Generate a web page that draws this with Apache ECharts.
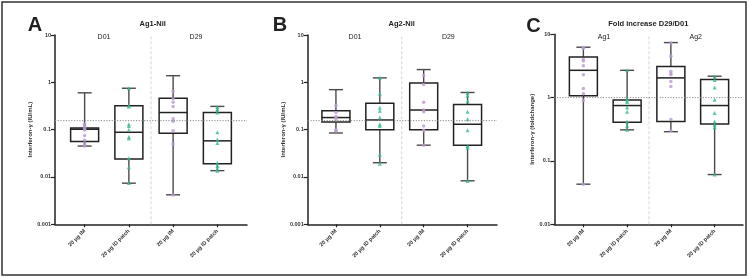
<!DOCTYPE html>
<html>
<head>
<meta charset="utf-8">
<script src="https://cdn.jsdelivr.net/npm/echarts@6/dist/echarts.min.js"></script>
<style>
html,body{margin:0;padding:0;background:#fff;}
#main{width:750px;height:278px;}
</style>
</head>
<body>
<div id="main"></div>
<script>
// categories
var groups = ['20 µg IM', '20 µg ID patch', '20 µg IM', '20 µg ID patch'];

// box stats per group: [min, q1, median, q3, max]
var aBox = [
    [0.045, 0.056, 0.102, 0.108, 0.6],
    [0.0074, 0.024, 0.088, 0.32, 0.75],
    [0.0042, 0.084, 0.23, 0.46, 1.38],
    [0.0136, 0.019, 0.058, 0.23, 0.31]
];
var bBox = [
    [0.085, 0.145, 0.18, 0.25, 0.7],
    [0.02, 0.1, 0.16, 0.36, 1.24],
    [0.047, 0.1, 0.26, 0.97, 1.86],
    [0.0083, 0.047, 0.13, 0.34, 0.61]
];
var cBox = [
    [0.043, 1.07, 2.7, 4.4, 6.25],
    [0.31, 0.41, 0.75, 0.92, 2.7],
    [0.29, 0.42, 2.05, 3.1, 7.4],
    [0.061, 0.385, 0.75, 1.93, 2.18]
];

// individual points per group
var aPts = [
    [0.13, 0.12, 0.11, 0.1, 0.1, 0.075, 0.06, 0.05, 0.045],
    [0.75, 0.32, 0.31, 0.13, 0.12, 0.1, 0.07, 0.065, 0.025, 0.016, 0.0075],
    [0.64, 0.45, 0.38, 0.31, 0.17, 0.15, 0.095, 0.05, 0.0042],
    [0.3, 0.27, 0.23, 0.088, 0.062, 0.052, 0.02, 0.017, 0.015, 0.0136]
];
var bPts = [
    [0.32, 0.23, 0.19, 0.18, 0.16, 0.1, 0.093],
    [1.25, 0.58, 0.29, 0.25, 0.18, 0.13, 0.12, 0.03, 0.019],
    [1.4, 0.9, 0.38, 0.26, 0.24, 0.12, 0.097, 0.095, 0.047],
    [0.6, 0.52, 0.4, 0.24, 0.165, 0.097, 0.045, 0.042, 0.0082]
];
var cPts = [
    [6.2, 6.0, 4.0, 3.8, 3.2, 2.3, 1.4, 1.15, 0.9, 0.043],
    [2.7, 0.95, 0.9, 0.85, 0.7, 0.6, 0.42, 0.36, 0.31],
    [7.3, 4.5, 2.6, 2.4, 2.3, 1.8, 1.5, 0.45, 0.3],
    [2.15, 1.9, 1.45, 0.93, 0.57, 0.42, 0.37, 0.34, 0.061]
];

// dotted reference level per panel
var aRef = 0.155;
var bRef = 0.155;
var cRef = 1;

var purple = '#b89bd0';
var green = '#38b98f';
var font = 'Liberation Sans, Arial, sans-serif';

var panels = [
    {box: aBox, pts: aPts, ref: aRef, min: 0.001, max: 10, name: 'Interferon-γ (IU/mL)',
     frame: {left: 55, top: 35, width: 192, height: 189.3},
     inner: {left: 62.5, top: 35, width: 177, height: 189.3}},
    {box: bBox, pts: bPts, ref: bRef, min: 0.001, max: 10, name: 'Interferon-γ (IU/mL)',
     frame: {left: 307.7, top: 35, width: 189.3, height: 189.3},
     inner: {left: 314, top: 35, width: 175.5, height: 189.3}},
    {box: cBox, pts: cPts, ref: cRef, min: 0.01, max: 10, name: 'Interferon-γ (foldchange)',
     frame: {left: 554.3, top: 34.3, width: 188.7, height: 190},
     inner: {left: 561.5, top: 34.3, width: 175, height: 190}}
];

function drawBox(params, api) {
    var x = api.value(0);
    var lo = api.coord([x, api.value(1)]);
    var q1 = api.coord([x, api.value(2)]);
    var md = api.coord([x, api.value(3)]);
    var q3 = api.coord([x, api.value(4)]);
    var hi = api.coord([x, api.value(5)]);
    var cx = lo[0], hw = 14, cw = 7;
    var ws = {stroke: '#4a4a4a', lineWidth: 1.4};
    var bs = {stroke: '#222', lineWidth: 1.5, fill: 'none'};
    return {
        type: 'group',
        children: [
            {type: 'line', shape: {x1: cx, y1: hi[1], x2: cx, y2: q3[1]}, style: ws},
            {type: 'line', shape: {x1: cx, y1: q1[1], x2: cx, y2: lo[1]}, style: ws},
            {type: 'line', shape: {x1: cx - cw, y1: hi[1], x2: cx + cw, y2: hi[1]}, style: ws},
            {type: 'line', shape: {x1: cx - cw, y1: lo[1], x2: cx + cw, y2: lo[1]}, style: ws},
            {type: 'rect', shape: {x: cx - hw, y: q3[1], width: 2 * hw, height: q1[1] - q3[1]}, style: bs},
            {type: 'line', shape: {x1: cx - hw, y1: md[1], x2: cx + hw, y2: md[1]}, style: bs}
        ]
    };
}

function tickLabel(v) {
    return String(parseFloat(v.toPrecision(3)));
}

var grid = [], xAxis = [], yAxis = [], series = [];

panels.forEach(function (p, k) {
    var gFrame = grid.length;
    grid.push(p.frame);
    var gInner = grid.length;
    grid.push(p.inner);

    // frame axes: visible axis lines, y ticks and labels
    var xFrame = xAxis.length;
    xAxis.push({
        type: 'value', gridIndex: gFrame, min: 0, max: 1,
        axisLine: {show: true, lineStyle: {color: '#222', width: 1.5}},
        axisTick: {show: false}, axisLabel: {show: false}, splitLine: {show: false}
    });
    var yFrame = yAxis.length;
    yAxis.push({
        type: 'log', logBase: 10, gridIndex: gFrame, min: p.min, max: p.max,
        name: p.name, nameLocation: 'middle', nameGap: 19, nameRotate: 90,
        nameTextStyle: {fontSize: 6, fontWeight: 'bold', color: '#333', fontFamily: font},
        axisLine: {show: true, lineStyle: {color: '#222', width: 1.5}},
        axisTick: {show: true, length: 4, lineStyle: {color: '#222', width: 1.2}},
        minorTick: {show: false},
        axisLabel: {fontSize: 5.5, fontWeight: 'bold', color: '#333', margin: 4, fontFamily: font, formatter: tickLabel},
        splitLine: {show: false}
    });

    // inner axes: categories and the group separator
    var xCat = xAxis.length;
    xAxis.push({
        type: 'category', gridIndex: gInner, data: groups,
        axisLine: {show: false},
        axisTick: {show: true, alignWithLabel: true, length: 3, lineStyle: {color: '#222', width: 1.2}},
        axisLabel: {rotate: 45, fontSize: 5.5, fontWeight: 'bold', color: '#333', margin: 6, fontFamily: font, interval: 0}
    });
    var xSep = xAxis.length;
    xAxis.push({type: 'value', gridIndex: gInner, min: 0, max: 4, show: false});
    var yIn = yAxis.length;
    yAxis.push({type: 'log', logBase: 10, gridIndex: gInner, min: p.min, max: p.max, show: false});

    // separator between the two halves
    series.push({
        type: 'line', xAxisIndex: xSep, yAxisIndex: yIn,
        data: [[2, p.min], [2, p.max]], symbol: 'none', silent: true,
        lineStyle: {color: '#d4d4d4', width: 1, type: [3, 2]}, z: 1
    });

    // boxes
    series.push({
        type: 'custom', xAxisIndex: xCat, yAxisIndex: yIn,
        renderItem: drawBox,
        data: p.box.map(function (b, i) { return [i].concat(b); }),
        z: 3
    });

    // points
    p.pts.forEach(function (arr, i) {
        series.push({
            type: 'scatter', xAxisIndex: xCat, yAxisIndex: yIn,
            symbol: i % 2 === 0 ? 'circle' : 'triangle',
            symbolSize: i % 2 === 0 ? 3.5 : 4,
            itemStyle: {color: i % 2 === 0 ? purple : green},
            data: arr.map(function (v) { return [i, v]; }),
            z: 4
        });
    });

    // dotted reference level
    series.push({
        type: 'line', xAxisIndex: xFrame, yAxisIndex: yFrame,
        data: [[0, p.ref], [1, p.ref]], symbol: 'none', silent: true,
        lineStyle: {color: '#888', width: 1, type: [1.2, 1.5]}, z: 5
    });
});

function txt(x, y, s, size, weight) {
    return {
        type: 'text', x: x, y: y,
        style: {text: s, fontSize: size, fontWeight: weight, fill: '#222', fontFamily: font,
                textAlign: 'center', textVerticalAlign: 'middle'}
    };
}

var myChart = echarts.init(document.getElementById('main'));
var option = {
    animation: false,
    backgroundColor: '#fff',
    grid: grid,
    xAxis: xAxis,
    yAxis: yAxis,
    series: series,
    graphic: [
        {type: 'rect', shape: {x: 2, y: 2, width: 744, height: 273}, style: {fill: 'none', stroke: '#333', lineWidth: 1.5}},
        txt(35, 25, 'A', 20, 'bold'),
        txt(280, 25, 'B', 20, 'bold'),
        txt(533.5, 26, 'C', 20, 'bold'),
        txt(152.7, 24, 'Ag1-Nil', 7.5, 'bold'),
        txt(401.7, 24, 'Ag2-Nil', 7.5, 'bold'),
        txt(648.3, 24, 'Fold increase D29/D01', 7.5, 'bold'),
        txt(104, 37, 'D01', 7, 'normal'),
        txt(196, 37, 'D29', 7, 'normal'),
        txt(355, 37, 'D01', 7, 'normal'),
        txt(448.3, 37, 'D29', 7, 'normal'),
        txt(604, 37, 'Ag1', 7, 'normal'),
        txt(695.7, 37, 'Ag2', 7, 'normal')
    ]
};
myChart.setOption(option);
</script>
</body>
</html>
